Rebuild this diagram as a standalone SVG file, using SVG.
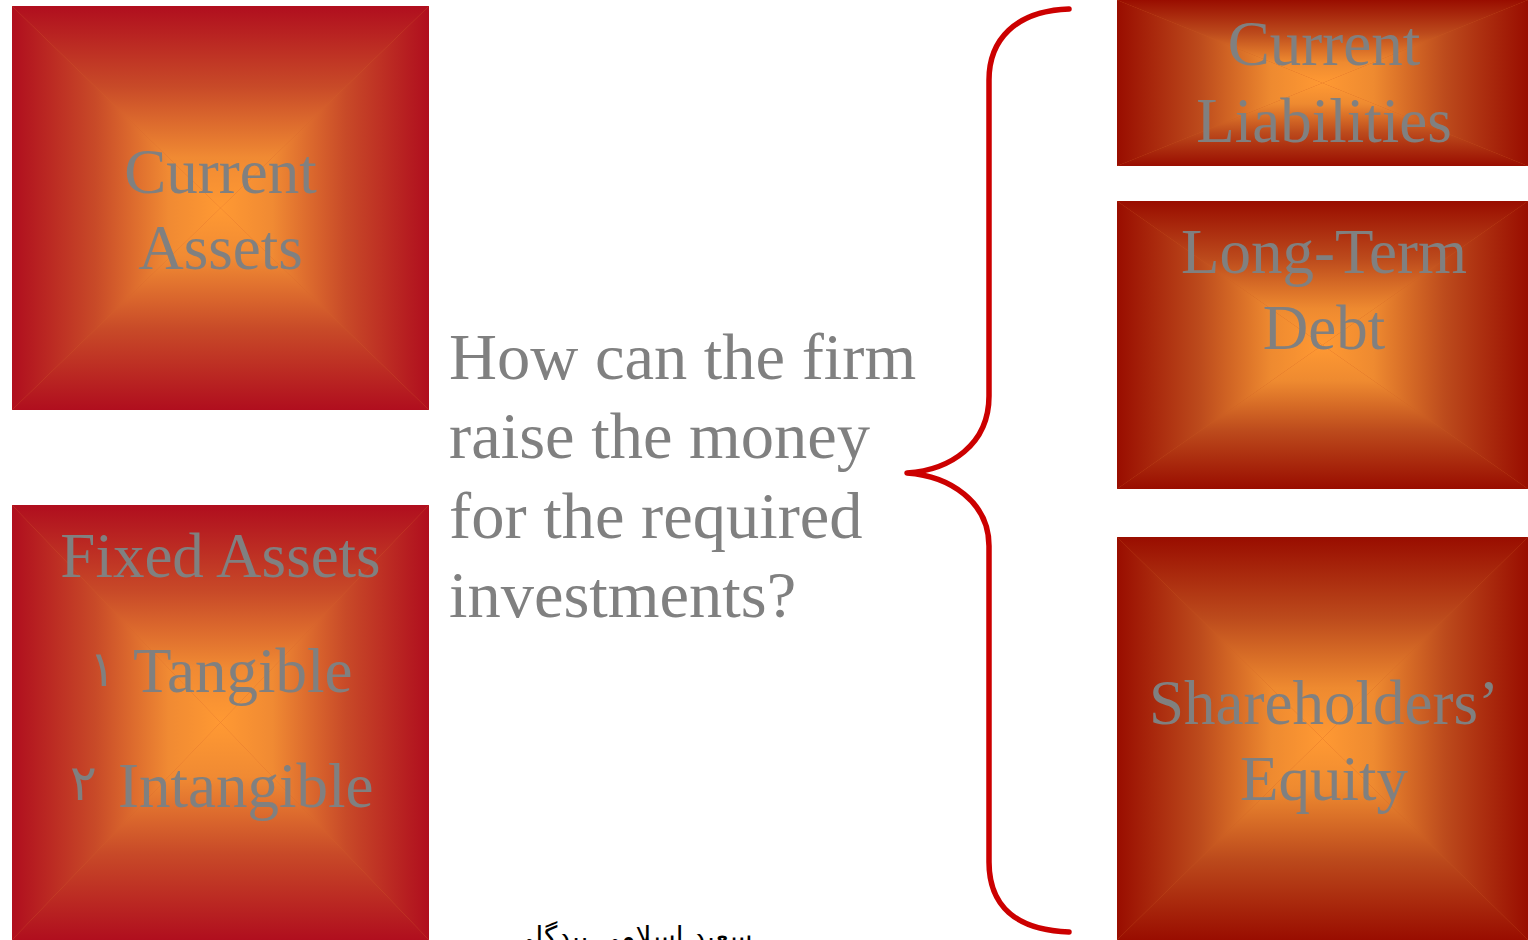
<svg xmlns="http://www.w3.org/2000/svg" width="1528" height="940" viewBox="0 0 1528 940">
<defs>
<style>
.lbl{font-family:"Liberation Serif","Times New Roman",serif;font-size:63px;fill:#808080;text-anchor:middle}
.q{font-family:"Liberation Serif","Times New Roman",serif;font-size:66.5px;fill:#808080}
.dig{font-family:"DejaVu Sans",sans-serif;font-size:50px;fill:#808080}
.brace{fill:none;stroke:#CC0000;stroke-width:5.5;stroke-linecap:round;stroke-linejoin:round}
.fa{font-family:"DejaVu Sans",sans-serif;font-size:28px;fill:#000000}
</style>
<linearGradient id="aT" x1="0" y1="0" x2="0" y2="1"><stop offset="0" stop-color="#B00E1E"/><stop offset="0.4" stop-color="#C84A28"/><stop offset="0.75" stop-color="#F08A33"/><stop offset="1" stop-color="#FF9933"/></linearGradient>
<linearGradient id="aB" x1="0" y1="1" x2="0" y2="0"><stop offset="0" stop-color="#B00E1E"/><stop offset="0.4" stop-color="#C84A28"/><stop offset="0.75" stop-color="#F08A33"/><stop offset="1" stop-color="#FF9933"/></linearGradient>
<linearGradient id="aL" x1="0" y1="0" x2="1" y2="0"><stop offset="0" stop-color="#B00E1E"/><stop offset="0.4" stop-color="#C84A28"/><stop offset="0.75" stop-color="#F08A33"/><stop offset="1" stop-color="#FF9933"/></linearGradient>
<linearGradient id="aR" x1="1" y1="0" x2="0" y2="0"><stop offset="0" stop-color="#B00E1E"/><stop offset="0.4" stop-color="#C84A28"/><stop offset="0.75" stop-color="#F08A33"/><stop offset="1" stop-color="#FF9933"/></linearGradient>
<linearGradient id="bT" x1="0" y1="0" x2="0" y2="1"><stop offset="0" stop-color="#990D00"/><stop offset="0.4" stop-color="#BC4A1C"/><stop offset="0.75" stop-color="#EE8A30"/><stop offset="1" stop-color="#FF9933"/></linearGradient>
<linearGradient id="bB" x1="0" y1="1" x2="0" y2="0"><stop offset="0" stop-color="#990D00"/><stop offset="0.4" stop-color="#BC4A1C"/><stop offset="0.75" stop-color="#EE8A30"/><stop offset="1" stop-color="#FF9933"/></linearGradient>
<linearGradient id="bL" x1="0" y1="0" x2="1" y2="0"><stop offset="0" stop-color="#990D00"/><stop offset="0.4" stop-color="#BC4A1C"/><stop offset="0.75" stop-color="#EE8A30"/><stop offset="1" stop-color="#FF9933"/></linearGradient>
<linearGradient id="bR" x1="1" y1="0" x2="0" y2="0"><stop offset="0" stop-color="#990D00"/><stop offset="0.4" stop-color="#BC4A1C"/><stop offset="0.75" stop-color="#EE8A30"/><stop offset="1" stop-color="#FF9933"/></linearGradient>
</defs>
<rect width="1528" height="940" fill="#FFFFFF"/>

<g id="current-assets">
<rect x="12" y="6" width="417" height="404" fill="#D4602A"/>
<polygon points="12,6 429,6 220.5,208" fill="url(#aT)"/>
<polygon points="12,410 429,410 220.5,208" fill="url(#aB)"/>
<polygon points="12,6 12,410 220.5,208" fill="url(#aL)"/>
<polygon points="429,6 429,410 220.5,208" fill="url(#aR)"/>
<text class="lbl" x="220.5" y="193">Current</text>
<text class="lbl" x="220.5" y="269">Assets</text>
</g>

<g id="fixed-assets">
<rect x="12" y="505" width="417" height="435" fill="#D4602A"/>
<polygon points="12,505 429,505 220.5,722.5" fill="url(#aT)"/>
<polygon points="12,940 429,940 220.5,722.5" fill="url(#aB)"/>
<polygon points="12,505 12,940 220.5,722.5" fill="url(#aL)"/>
<polygon points="429,505 429,940 220.5,722.5" fill="url(#aR)"/>
<text class="lbl" x="220.5" y="577">Fixed Assets</text>
<text class="dig" x="89" y="686">١</text>
<text class="lbl" x="133" y="692" style="text-anchor:start">Tangible</text>
<text class="dig" x="70" y="800">٢</text>
<text class="lbl" x="118" y="807" style="text-anchor:start">Intangible</text>
</g>

<g id="question">
<text class="q" x="449" y="379">How can the firm</text>
<text class="q" x="449" y="458">raise the money</text>
<text class="q" x="449" y="538">for the required</text>
<text class="q" x="449" y="617">investments?</text>
</g>

<g id="connectors">
<path class="brace" d="M1069,9 C1015,11 989,40 989,80 L989,396 C989,445 950,470 907,473 C950,476 989,502 989,546 L989,862 C989,905 1015,930 1069,932"/>
</g>

<g id="current-liabilities">
<rect x="1117" y="0" width="411" height="166" fill="#CC5A20"/>
<polygon points="1117,0 1528,0 1322.5,83" fill="url(#bT)"/>
<polygon points="1117,166 1528,166 1322.5,83" fill="url(#bB)"/>
<polygon points="1117,0 1117,166 1322.5,83" fill="url(#bL)"/>
<polygon points="1528,0 1528,166 1322.5,83" fill="url(#bR)"/>
<text class="lbl" x="1324" y="65">Current</text>
<text class="lbl" x="1324" y="142">Liabilities</text>
</g>

<g id="long-term-debt">
<rect x="1117" y="201" width="411" height="288" fill="#CC5A20"/>
<polygon points="1117,201 1528,201 1322.5,345" fill="url(#bT)"/>
<polygon points="1117,489 1528,489 1322.5,345" fill="url(#bB)"/>
<polygon points="1117,201 1117,489 1322.5,345" fill="url(#bL)"/>
<polygon points="1528,201 1528,489 1322.5,345" fill="url(#bR)"/>
<text class="lbl" x="1324" y="273">Long-Term</text>
<text class="lbl" x="1324" y="349">Debt</text>
</g>

<g id="shareholders-equity">
<rect x="1117" y="537" width="411" height="403" fill="#CC5A20"/>
<polygon points="1117,537 1528,537 1322.5,738.5" fill="url(#bT)"/>
<polygon points="1117,940 1528,940 1322.5,738.5" fill="url(#bB)"/>
<polygon points="1117,537 1117,940 1322.5,738.5" fill="url(#bL)"/>
<polygon points="1528,537 1528,940 1322.5,738.5" fill="url(#bR)"/>
<text class="lbl" x="1324" y="724">Shareholders’</text>
<text class="lbl" x="1324" y="800">Equity</text>
</g>

<g id="footer">
<text class="fa" x="632" y="946" direction="rtl" text-anchor="middle">سعید اسلامی بیدگلی</text>
</g>
</svg>
